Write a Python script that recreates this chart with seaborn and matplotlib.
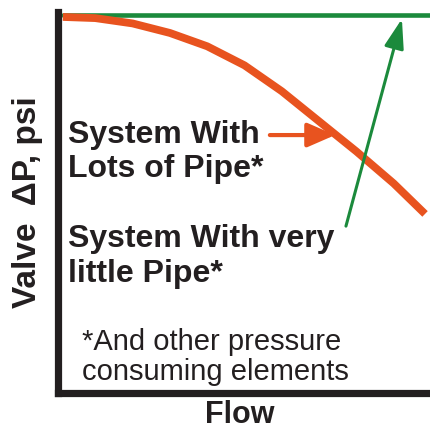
import numpy as np
import pandas as pd
import matplotlib
matplotlib.use("Agg")
import matplotlib.pyplot as plt
import seaborn as sns

# ---- data (flow and valve dP in % of full scale) ----
flow_lots = [1.3, 10, 20, 30, 40, 50, 60, 70, 80, 90, 98.4]
dp_lots = [98.7, 98.4, 97.0, 94.5, 91.0, 86.0, 79.2, 71.3, 63.4, 55.0, 47.0]
flow_little = [1.3, 100]
dp_little = [99.2, 99.2]

label_lots = ["System With", "Lots of Pipe*"]
label_little = ["System With very", "little Pipe*"]
footnote = ["*And other pressure", "consuming elements"]
xlabel = "Flow"
ylabel = "Valve  \u0394P, psi"

# arrows: (tail, tip) in data coords
arrow_lots = [(56.8, 67.7), (74.3, 67.7)]
arrow_little = [(77.2, 43.8), (92.2, 98.2)]

ORANGE = "#E8531F"
GREEN = "#1B8A3C"
BLACK = "#231F20"
TEXT = "#231F20"

sns.set_style("white")
plt.rcParams["font.family"] = ["Liberation Sans", "DejaVu Sans"]

W = 431.0
fig = plt.figure(figsize=(4.31, 4.31), dpi=100)
fig.patch.set_facecolor("white")
ax = fig.add_axes([58 / W, 37 / W, 373 / W, 381 / W])
ax.set_xlim(0, 100)
ax.set_ylim(0, 100)

df_little = pd.DataFrame({"flow": flow_little, "dp": dp_little})
df_lots = pd.DataFrame({"flow": flow_lots, "dp": dp_lots})
sns.lineplot(data=df_little, x="flow", y="dp", ax=ax, color=GREEN, lw=3.3,
             zorder=2, sort=False)
sns.lineplot(data=df_lots, x="flow", y="dp", ax=ax, color=ORANGE, lw=5.6,
             zorder=3, sort=False, solid_capstyle="butt")

ax.annotate("", xy=arrow_lots[1], xytext=arrow_lots[0],
            arrowprops=dict(arrowstyle="-|>,head_length=0.85,head_width=0.37",
                            mutation_scale=20, lw=3.0, color=ORANGE,
                            shrinkA=0, shrinkB=0), zorder=4)
ax.annotate("", xy=arrow_little[1], xytext=arrow_little[0],
            arrowprops=dict(arrowstyle="-|>,head_length=0.9,head_width=0.30",
                            mutation_scale=20, lw=2.2, color=GREEN,
                            shrinkA=0, shrinkB=0), zorder=4)

ax.set_xticks([])
ax.set_yticks([])
ax.set_xlabel("")
ax.set_ylabel("")
for s in ["top", "right"]:
    ax.spines[s].set_visible(False)
for s in ["left", "bottom"]:
    ax.spines[s].set_color(BLACK)
    ax.spines[s].set_linewidth(5.2)
ax.spines["left"].set_capstyle("projecting")
ax.spines["bottom"].set_capstyle("projecting")
ax.patch.set_alpha(0)

def ftxt(x, y, s, **kw):
    fig.text(x / W, 1 - y / W, s, transform=fig.transFigure, va="baseline",
             ha="left", color=TEXT, **kw)

ftxt(68, 143, label_lots[0], fontsize=23, fontweight="bold")
ftxt(68, 177, label_lots[1], fontsize=23, fontweight="bold")
ftxt(68, 247, label_little[0], fontsize=23, fontweight="bold")
ftxt(68, 282, label_little[1], fontsize=23, fontweight="bold")
ftxt(82, 350, footnote[0], fontsize=21)
ftxt(82, 380, footnote[1], fontsize=21)

fig.text(240 / W, 1 / W, xlabel, ha="center", va="bottom",
         fontsize=22, fontweight="bold", color=TEXT)
fig.text(28 / W, 1 - 202 / W, ylabel, ha="center", va="center",
         rotation=90, fontsize=24, fontweight="bold", color=TEXT)

fig.savefig("out.png", dpi=100, facecolor="white")
